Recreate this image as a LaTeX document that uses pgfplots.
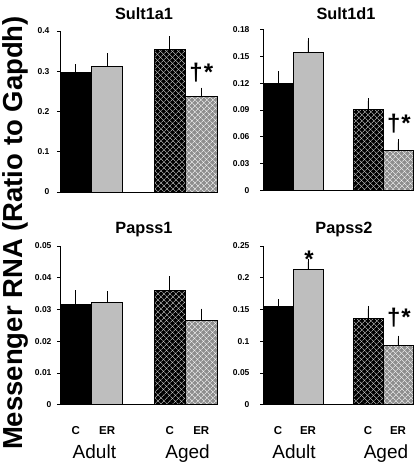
\documentclass[border=0pt]{standalone}
\usepackage{fontspec}
\setmainfont{Liberation Sans}
\usepackage{pgfplots}
\pgfplotsset{compat=1.18}
\usetikzlibrary{patterns,patterns.meta}
\definecolor{lgray}{HTML}{BEBEBE}
\definecolor{hgray}{HTML}{8E8E8E}
\pgfplotsset{
  panel/.style={
    scale only axis, anchor=south west,
    xmin=0, xmax=5, ymin=0,
    axis x line*=bottom, axis y line*=left,
    axis line style={black, line width=0.8pt},
    xtick=\empty,
    tick align=outside, major tick length=3pt,
    tick style={black, line width=0.8pt},
    scaled y ticks=false,
    /pgf/number format/assume math mode=true,
    yticklabel style={font=\fontsize{8.5}{10}\selectfont\bfseries, /pgf/number format/fixed, /pgf/number format/precision=2},
    clip=false,
  },
  errs/.style={error bars/.cd, y dir=plus, y explicit, error mark=-,
    error mark options={black, mark size=3pt, line width=0.8pt},
    error bar style={black, line width=0.8pt}},
  bK/.style={ybar, bar width=1, bar shift=0pt, draw=black, line width=0.7pt, fill=black, errs},
  bG/.style={ybar, bar width=1, bar shift=0pt, draw=black, line width=0.7pt, fill=lgray, errs},
  bD/.style={ybar, bar width=1, bar shift=0pt, draw=black, line width=0.7pt, fill=black,
    postaction={pattern={Lines[angle=45,distance=4pt,line width=0.55pt]}, pattern color=white!85!black},
    postaction={pattern={Lines[angle=-45,distance=4pt,line width=0.55pt]}, pattern color=white!85!black}, errs},
  bL/.style={ybar, bar width=1, bar shift=0pt, draw=black, line width=0.7pt, fill=hgray,
    postaction={pattern={Lines[angle=45,distance=4pt,line width=0.55pt]}, pattern color=white},
    postaction={pattern={Lines[angle=-45,distance=4pt,line width=0.55pt]}, pattern color=white}, errs},
}
\tikzset{
  cl/.style={anchor=base, yshift=-29.6pt, font=\fontsize{11.5}{12}\selectfont\bfseries},
  gl/.style={anchor=base, yshift=-53.6pt, font=\fontsize{19}{20}\selectfont},
}
\newcommand{\ttl}[1]{\fontsize{16.3}{18}\selectfont\bfseries #1}
\newcommand{\dstar}{{\fontsize{24}{24}\selectfont\bfseries †\hspace{1pt}*}}
\newcommand{\sstar}{{\fontsize{24}{24}\selectfont\bfseries *}}
\begin{document}
\begin{tikzpicture}
\useasboundingbox (0pt,0pt) rectangle (414pt,464pt);
% y label
\node[rotate=90, anchor=base] at (23pt,231pt) {\fontsize{27.5}{30}\selectfont\bfseries Messenger RNA (Ratio to Gapdh)};
% titles
\node[anchor=base] at (144pt,444pt) {\ttl{Sult1a1}};
\node[anchor=base] at (346pt,444.5pt) {\ttl{Sult1d1}};
\node[anchor=base] at (144pt,230pt) {\ttl{Papss1}};
\node[anchor=base] at (344pt,230pt) {\ttl{Papss2}};

% Sult1a1
\begin{axis}[panel, at={(60pt,272pt)}, width=157pt, height=161pt, ymax=0.4,
  ytick={0,0.1,0.2,0.3,0.4}, yticklabel style={xshift=-4pt}]
\addplot[bK] coordinates {(0.5,0.297) +- (0,0.013)};
\addplot[bG] coordinates {(1.5,0.312) +- (0,0.025)};
\addplot[bD] coordinates {(3.5,0.355) +- (0,0.025)};
\addplot[bL] coordinates {(4.5,0.237) +- (0,0.015)};
\node[anchor=base, yshift=10pt] at (axis cs:4.5,0.252) {\dstar};
\end{axis}

% Sult1d1
\begin{axis}[panel, at={(263pt,273.3pt)}, width=150pt, height=161.4pt, ymax=0.18,
  ytick={0,0.03,0.06,0.09,0.12,0.15,0.18}, yticklabel style={xshift=-7pt}]
\addplot[bK] coordinates {(0.5,0.1195) +- (0,0.0105)};
\addplot[bG] coordinates {(1.5,0.154) +- (0,0.013)};
\addplot[bD] coordinates {(3.5,0.091) +- (0,0.009)};
\addplot[bL] coordinates {(4.5,0.045) +- (0,0.009)};
\node[anchor=base, yshift=10.5pt, xshift=1pt] at (axis cs:4.5,0.054) {\dstar};
\end{axis}

% Papss1
\begin{axis}[panel, at={(60pt,59.3pt)}, width=157pt, height=158.7pt, ymax=0.05,
  ytick={0,0.01,0.02,0.03,0.04,0.05}, yticklabel style={xshift=-2pt}]
\addplot[bK] coordinates {(0.5,0.0317) +- (0,0.0034)};
\addplot[bG] coordinates {(1.5,0.0322) +- (0,0.0026)};
\addplot[bD] coordinates {(3.5,0.0361) +- (0,0.0035)};
\addplot[bL] coordinates {(4.5,0.0267) +- (0,0.0026)};
\node[cl] at (axis cs:0.5,0) {C};
\node[cl] at (axis cs:1.5,0) {ER};
\node[cl] at (axis cs:3.5,0) {C};
\node[cl] at (axis cs:4.5,0) {ER};
\node[gl, xshift=3pt] at (axis cs:1,0) {Adult};
\node[gl, xshift=2pt] at (axis cs:4,0) {Aged};
\end{axis}

% Papss2
\begin{axis}[panel, at={(263pt,59.3pt)}, width=150pt, height=158.7pt, ymax=0.25,
  ytick={0,0.05,0.1,0.15,0.2,0.25}, yticklabel style={xshift=-7pt}]
\addplot[bK] coordinates {(0.5,0.155) +- (0,0.006)};
\addplot[bG] coordinates {(1.5,0.213) +- (0,0.012)};
\addplot[bD] coordinates {(3.5,0.136) +- (0,0.015)};
\addplot[bL] coordinates {(4.5,0.094) +- (0,0.010)};
\node[anchor=base, yshift=-6pt, xshift=1pt] at (axis cs:1.5,0.225) {\sstar};
\node[anchor=base, yshift=13pt, xshift=1pt] at (axis cs:4.5,0.104) {\dstar};
\node[cl] at (axis cs:0.5,0) {C};
\node[cl] at (axis cs:1.5,0) {ER};
\node[cl] at (axis cs:3.5,0) {C};
\node[cl] at (axis cs:4.5,0) {ER};
\node[gl, xshift=1pt] at (axis cs:1,0) {Adult};
\node[gl, xshift=3pt] at (axis cs:4,0) {Aged};
\end{axis}
\end{tikzpicture}
\end{document}
